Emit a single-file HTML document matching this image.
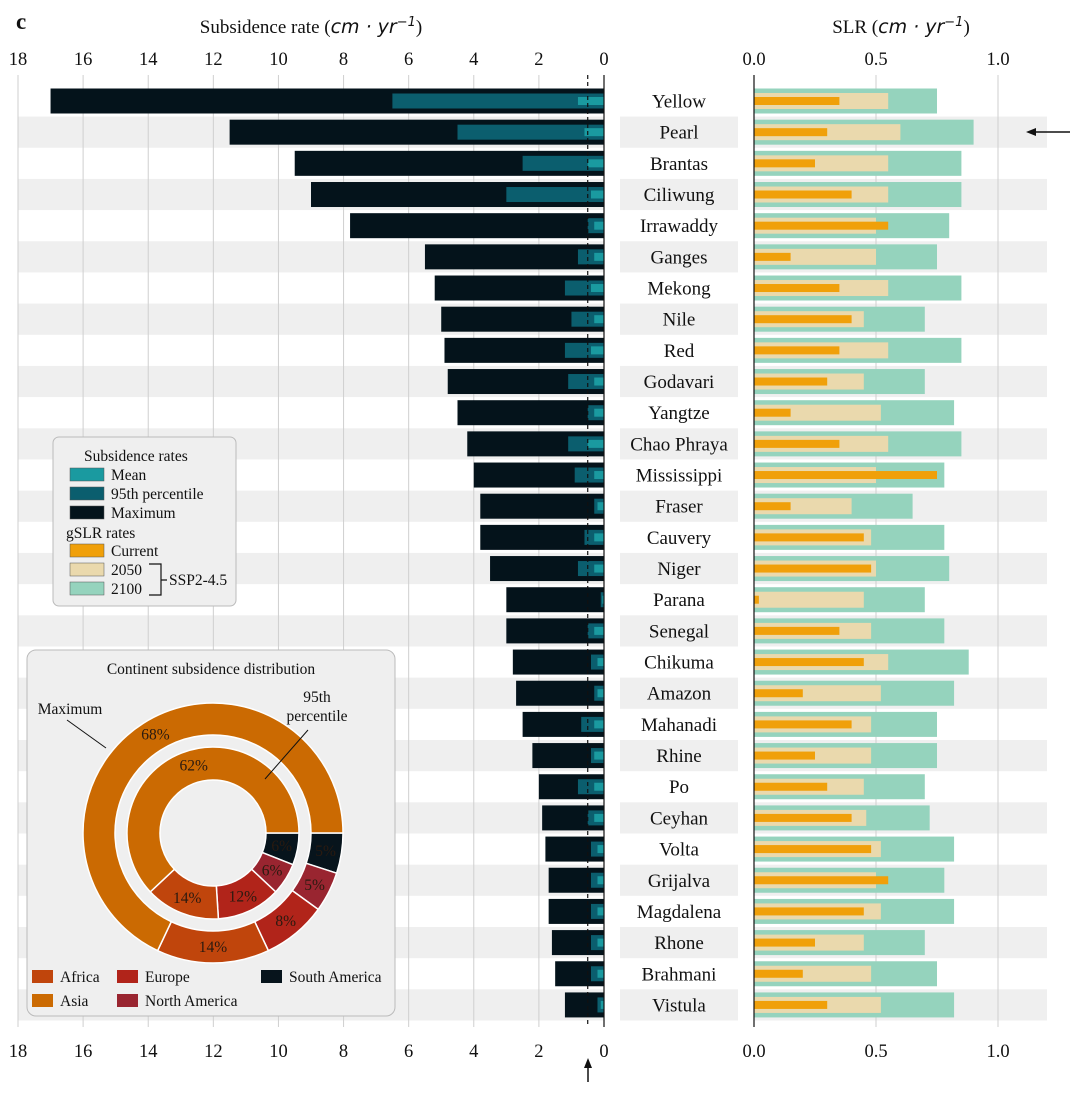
<!DOCTYPE html>
<html><head><meta charset="utf-8"><style>
body{margin:0;background:#fff}
svg{display:block;font-family:"Liberation Serif",serif}
</style></head><body>
<svg id="c" width="1080" height="1093" viewBox="0 0 1080 1093"></svg>
<script>
const deltas=["Yellow","Pearl","Brantas","Ciliwung","Irrawaddy","Ganges","Mekong","Nile","Red","Godavari","Yangtze","Chao Phraya","Mississippi","Fraser","Cauvery","Niger","Parana","Senegal","Chikuma","Amazon","Mahanadi","Rhine","Po","Ceyhan","Volta","Grijalva","Magdalena","Rhone","Brahmani","Vistula"];
const maxRate=[17,11.5,9.5,9,7.8,5.5,5.2,5.0,4.9,4.8,4.5,4.2,4.0,3.8,3.8,3.5,3.0,3.0,2.8,2.7,2.5,2.2,2.0,1.9,1.8,1.7,1.7,1.6,1.5,1.2];
const p95Rate=[6.5,4.5,2.5,3.0,0.5,0.8,1.2,1.0,1.2,1.1,0.5,1.1,0.9,0.3,0.6,0.8,0.1,0.5,0.4,0.3,0.7,0.4,0.8,0.5,0.4,0.4,0.4,0.4,0.4,0.2];
const meanRate=[0.8,0.6,0.5,0.4,0.3,0.3,0.4,0.3,0.4,0.3,0.3,0.5,0.3,0.2,0.3,0.3,0.05,0.3,0.2,0.2,0.3,0.3,0.3,0.3,0.2,0.2,0.2,0.2,0.2,0.1];
const slrCurrent=[0.35,0.30,0.25,0.40,0.55,0.15,0.35,0.40,0.35,0.30,0.15,0.35,0.75,0.15,0.45,0.48,0.02,0.35,0.45,0.20,0.40,0.25,0.30,0.40,0.48,0.55,0.45,0.25,0.20,0.30];
const slr2050=[0.55,0.60,0.55,0.55,0.50,0.50,0.55,0.45,0.55,0.45,0.52,0.55,0.50,0.40,0.48,0.50,0.45,0.48,0.55,0.52,0.48,0.48,0.45,0.46,0.52,0.50,0.52,0.45,0.48,0.52];
const slr2100=[0.75,0.90,0.85,0.85,0.80,0.75,0.85,0.70,0.85,0.70,0.82,0.85,0.78,0.65,0.78,0.80,0.70,0.78,0.88,0.82,0.75,0.75,0.70,0.72,0.82,0.78,0.82,0.70,0.75,0.82];
const leftTicks=[18,16,14,12,10,8,6,4,2,0];
const rightTicks=[0.0,0.5,1.0];
const continents=["South America","North America","Europe","Africa","Asia"];
const outerShare=[5,5,8,14,68];
const innerShare=[6,6,12,14,62];
const threshold=0.5;

const NS="http://www.w3.org/2000/svg",svg=document.getElementById('c');
function el(t,a,p){const e=document.createElementNS(NS,t);for(const k in a)e.setAttribute(k,a[k]);(p||svg).appendChild(e);return e;}
const xL=v=>604-v*(586/18);
const xR=v=>754+v*244;
const rowY=i=>101+i*31.17;
const BH=31.17;
deltas.forEach((d,i)=>{if(i%2==1){
 let b=el('rect',{x:18,y:rowY(i)-BH/2,width:586,height:BH,fill:'#efefef'});
 
 b=el('rect',{x:620,y:rowY(i)-BH/2,width:118,height:BH,fill:'#efefef'});
 
 b=el('rect',{x:754,y:rowY(i)-BH/2,width:293,height:BH,fill:'#efefef'});
 
}});
leftTicks.forEach(t=>{const g=el('line',{x1:xL(t),x2:xL(t),y1:75,y2:1027,stroke:'#cfcfcf','stroke-width':1});
 
 let tx=el('text',{x:xL(t),y:65,'text-anchor':'middle','font-size':18.5,fill:'#111'});tx.textContent=t;
 
 tx=el('text',{x:xL(t),y:1057,'text-anchor':'middle','font-size':18.5,fill:'#111'});tx.textContent=t;
 });
rightTicks.forEach(t=>{const g=el('line',{x1:xR(t),x2:xR(t),y1:75,y2:1027,stroke:'#cfcfcf','stroke-width':1});
 
 let tx=el('text',{x:xR(t),y:65,'text-anchor':'middle','font-size':18.5,fill:'#111'});tx.textContent=t.toFixed(1);
 
 tx=el('text',{x:xR(t),y:1057,'text-anchor':'middle','font-size':18.5,fill:'#111'});tx.textContent=t.toFixed(1);
 });
deltas.forEach((d,i)=>{const y=rowY(i);
 let r=el('rect',{x:xL(maxRate[i]),y:y-12.5,width:xL(0)-xL(maxRate[i]),height:25,fill:'#04131b'});
 
 r=el('rect',{x:xL(p95Rate[i]),y:y-7.5,width:xL(0)-xL(p95Rate[i]),height:15,fill:'#0b5e6e'});
 
 r=el('rect',{x:xL(meanRate[i]),y:y-4,width:xL(0)-xL(meanRate[i]),height:8,fill:'#1a9aa0'});
 
 r=el('rect',{x:754,y:y-12.5,width:xR(slr2100[i])-754,height:25,fill:'#95d3bd'});
 
 r=el('rect',{x:754,y:y-8,width:xR(slr2050[i])-754,height:16,fill:'#ead9ad'});
 
 r=el('rect',{x:754,y:y-4,width:xR(slrCurrent[i])-754,height:8,fill:'#f0a00a'});
 
 const t=el('text',{x:679,y:y+6.5,'text-anchor':'middle','font-size':19,fill:'#111'});t.textContent=d;
 
});
let a=el('line',{x1:604,x2:604,y1:75,y2:1027,stroke:'#111','stroke-width':1.2});
a=el('line',{x1:754,x2:754,y1:75,y2:1027,stroke:'#111','stroke-width':1.2});
a=el('line',{x1:xL(threshold),x2:xL(threshold),y1:75,y2:1027,stroke:'#111','stroke-width':1.2,'stroke-dasharray':'4,3'});
let t=el('text',{x:16,y:29,'font-size':23,'font-weight':'bold',fill:'#111'});t.textContent='c';
t=el('text',{x:311,y:33,'text-anchor':'middle','font-size':19,fill:'#111'});t.innerHTML='Subsidence rate (<tspan font-family="DejaVu Sans" font-style="italic">cm · yr</tspan><tspan font-family="DejaVu Sans" font-style="italic" font-size="13" dy="-7">−1</tspan><tspan dy="7">)</tspan>';
t=el('text',{x:901,y:33,'text-anchor':'middle','font-size':19,fill:'#111'});t.innerHTML='SLR (<tspan font-family="DejaVu Sans" font-style="italic">cm · yr</tspan><tspan font-family="DejaVu Sans" font-style="italic" font-size="13" dy="-7">−1</tspan><tspan dy="7">)</tspan>';
let g=el('g',{});
el('line',{x1:1070,x2:1030,y1:132,y2:132,stroke:'#111','stroke-width':1.5},g);
el('path',{d:'M1026 132 L1036 128 L1036 136 Z',fill:'#111'},g);
g=el('g',{});
el('line',{x1:588,x2:588,y1:1082,y2:1062,stroke:'#111','stroke-width':1.5},g);
el('path',{d:'M588 1058 L584 1068 L592 1068 Z',fill:'#111'},g);
g=el('g',{});
el('rect',{x:53,y:437,width:183,height:169,rx:6,fill:'#efefef',stroke:'#bbb'},g);
const L=[['t','Subsidence rates',84,461],['s','#1a9aa0','Mean',475],['s','#0b5e6e','95th percentile',494],['s','#04131b','Maximum',513],['t','gSLR rates',66,538],['s','#f0a00a','Current',551],['s','#ead9ad','2050',570],['s','#95d3bd','2100',589]];
L.forEach(o=>{if(o[0]=='t'){const x=el('text',{x:o[2],y:o[3],'font-size':15.5,fill:'#111'},g);x.textContent=o[1];}
 else{const e=el('g',{},g);
 el('rect',{x:70,y:o[3]-7,width:34,height:13,fill:o[1],stroke:'#555','stroke-width':0.5},e);
 const x=el('text',{x:111,y:o[3]+5,'font-size':15.5,fill:'#111'},e);x.textContent=o[2];}});
el('path',{d:'M149 564 H161 V595 H149 M161 580 H167',fill:'none',stroke:'#111','stroke-width':1.2},g);
t=el('text',{x:169,y:585,'font-size':15.5,fill:'#111'},g);t.textContent='SSP2-4.5';
g=el('g',{});
el('rect',{x:27,y:650,width:368,height:366,rx:9,fill:'#efefef',stroke:'#bbb'},g);
t=el('text',{x:211,y:674,'text-anchor':'middle','font-size':15.5,fill:'#111'},g);t.textContent='Continent subsidence distribution';
const cc={"South America":'#07141c',"North America":'#992530',"Europe":'#b1241a',"Africa":'#c0450c',"Asia":'#cb6a02'};
const cx=213,cy=833;
function ring(vals,r0,r1,lr,name){let a0=0;const tot=vals.reduce((s,v)=>s+v,0);
 vals.forEach((v,i)=>{const a1=a0+v/tot*2*Math.PI;
  const p=(r,a)=>[cx+r*Math.cos(a),cy+r*Math.sin(a)];const lg=a1-a0>Math.PI?1:0;
  const A=p(r1,a0),B=p(r1,a1),C=p(r0,a1),D=p(r0,a0);
  const s=el('path',{d:`M${A} A${r1} ${r1} 0 ${lg} 1 ${B} L${C} A${r0} ${r0} 0 ${lg} 0 ${D} Z`,fill:cc[continents[i]],stroke:'#fff','stroke-width':1.5},g);
  
  let am=(a0+a1)/2;let q=p(lr,am);if(continents[i]=='Asia'){q=name=='outer-slice'?p(lr,-2.1):p(lr,-1.85);}
  const x=el('text',{x:q[0],y:q[1]+5,'text-anchor':'middle','font-size':15.5,fill:'#2a1a10'},g);x.textContent=v+'%';
  
  a0=a1;});}
ring(outerShare,98,130,114,'outer-slice');
ring(innerShare,53,86,70,'inner-slice');
el('line',{x1:106,y1:748,x2:67,y2:720,stroke:'#111'},g);
el('line',{x1:265,y1:779,x2:308,y2:730,stroke:'#111'},g);
t=el('text',{x:70,y:714,'text-anchor':'middle','font-size':15.5,fill:'#111'},g);t.textContent='Maximum';
t=el('text',{x:317,y:702,'text-anchor':'middle','font-size':15.5,fill:'#111'},g);t.textContent='95th';
t=el('text',{x:317,y:721,'text-anchor':'middle','font-size':15.5,fill:'#111'},g);t.textContent='percentile';
[['Africa',32,977],['Europe',117,977],['South America',261,977],['Asia',32,1001],['North America',117,1001]].forEach(o=>{
 const e=el('g',{},g);
 el('rect',{x:o[1],y:o[2]-7,width:21,height:13,fill:cc[o[0]]},e);
 const x=el('text',{x:o[1]+28,y:o[2]+5,'font-size':15.5,fill:'#111'},e);x.textContent=o[0];});
</script>
</body></html>
